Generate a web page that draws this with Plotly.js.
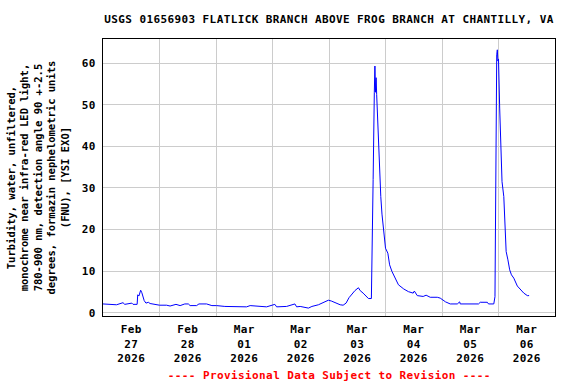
<!DOCTYPE html>
<html>
<head>
<meta charset="utf-8">
<script src="https://cdn.plot.ly/plotly-3.0.1.min.js"></script>
<style>
  html, body { margin: 0; padding: 0; background: #fff; }
  #chart { width: 576px; height: 384px; }
  .xtick text, .ytick text, .gtitle { letter-spacing: 0.4px; }
</style>
</head>
<body>
<div id="chart"></div>
<script>
// Turbidity (FNU) readings
var times = [
  "2026-02-27 00:00","2026-02-27 03:00","2026-02-27 05:45","2026-02-27 08:30","2026-02-27 09:15",
  "2026-02-27 12:15","2026-02-27 12:45","2026-02-27 14:30","2026-02-27 14:45","2026-02-27 15:15",
  "2026-02-27 16:00","2026-02-27 16:30","2026-02-27 17:00","2026-02-27 17:30","2026-02-27 18:15",
  "2026-02-27 19:15","2026-02-27 20:00","2026-02-27 22:00","2026-02-28 00:00","2026-02-28 03:00",
  "2026-02-28 04:30","2026-02-28 07:00","2026-02-28 08:45","2026-02-28 10:45","2026-02-28 12:15",
  "2026-02-28 13:00","2026-02-28 15:45","2026-02-28 16:45","2026-02-28 20:00","2026-02-28 22:15",
  "2026-03-01 00:15","2026-03-01 03:45","2026-03-01 07:30","2026-03-01 13:00","2026-03-01 14:30",
  "2026-03-01 16:00","2026-03-01 18:45","2026-03-01 21:30","2026-03-02 01:00","2026-03-02 01:45",
  "2026-03-02 06:00","2026-03-02 08:15","2026-03-02 09:30","2026-03-02 10:15","2026-03-02 11:45",
  "2026-03-02 15:15","2026-03-02 16:45","2026-03-02 19:30","2026-03-02 21:00","2026-03-02 22:30",
  "2026-03-02 23:45","2026-03-03 01:00","2026-03-03 02:30","2026-03-03 04:45","2026-03-03 06:00",
  "2026-03-03 07:15","2026-03-03 08:30","2026-03-03 09:45","2026-03-03 11:00","2026-03-03 12:30",
  "2026-03-03 13:15","2026-03-03 14:30","2026-03-03 15:45","2026-03-03 16:45","2026-03-03 18:00",
  "2026-03-03 18:15","2026-03-03 18:45","2026-03-03 19:15","2026-03-03 19:30","2026-03-03 19:45",
  "2026-03-03 20:00","2026-03-03 20:15","2026-03-03 20:45","2026-03-03 21:15","2026-03-03 21:45",
  "2026-03-03 22:00","2026-03-03 22:30","2026-03-03 23:00","2026-03-03 23:30","2026-03-04 00:00",
  "2026-03-04 01:00","2026-03-04 01:45","2026-03-04 02:45","2026-03-04 04:00","2026-03-04 05:30",
  "2026-03-04 07:45","2026-03-04 09:45","2026-03-04 11:45","2026-03-04 12:15","2026-03-04 13:30",
  "2026-03-04 16:00","2026-03-04 17:15","2026-03-04 19:00","2026-03-04 22:00","2026-03-04 23:15",
  "2026-03-05 01:30","2026-03-05 03:30","2026-03-05 06:30","2026-03-05 07:30","2026-03-05 07:45",
  "2026-03-05 12:00","2026-03-05 15:30","2026-03-05 16:15","2026-03-05 19:15","2026-03-05 19:45",
  "2026-03-05 22:00","2026-03-05 22:30","2026-03-05 22:45","2026-03-05 23:00","2026-03-05 23:15",
  "2026-03-05 23:30","2026-03-05 23:45","2026-03-06 00:00","2026-03-06 00:30","2026-03-06 01:00",
  "2026-03-06 01:30","2026-03-06 02:15","2026-03-06 02:45","2026-03-06 03:15","2026-03-06 04:00",
  "2026-03-06 04:45","2026-03-06 05:30","2026-03-06 06:30","2026-03-06 08:00","2026-03-06 09:15",
  "2026-03-06 10:45","2026-03-06 12:15","2026-03-06 13:00"
];
var turbidity = [
  2.1, 2.0, 1.9, 2.4, 2.0,
  2.3, 2.0, 2.0, 4.3, 4.0,
  5.4, 4.8, 3.85, 2.9, 2.3,
  2.5, 2.2, 2.0, 1.8, 1.8,
  1.6, 2.0, 1.7, 2.1, 2.1,
  1.7, 1.7, 2.1, 2.1, 1.7,
  1.7, 1.5, 1.4, 1.4, 1.7,
  1.6, 1.5, 1.4, 2.0, 1.4,
  1.5, 2.0, 2.1, 1.4, 1.5,
  1.1, 1.5, 1.9, 2.3, 2.7,
  3.0, 2.8, 2.4, 1.9, 1.8,
  2.3, 3.6, 4.6, 5.3, 6.0,
  5.3, 4.7, 3.9, 3.4, 3.4,
  11.1, 32.0, 53.0, 59.3, 53.0,
  56.5, 52.5, 44.4, 37.7, 32.3,
  27.9, 23.7, 20.7, 17.1, 15.5,
  14.3, 11.5, 9.9, 8.3, 6.7,
  5.7, 5.05, 4.7, 5.2, 4.1,
  3.9, 4.2, 3.7, 3.7, 3.5,
  2.6, 2.1, 2.1, 2.6, 2.1,
  2.1, 2.1, 2.5, 2.5, 2.1,
  2.1, 3.85, 30.0, 59.6, 62.0,
  63.2, 60.5, 61.0, 49.2, 42.0,
  31.5, 27.9, 20.3, 14.7, 12.7,
  10.3, 9.1, 8.3, 6.4, 5.5,
  4.7, 4.1, 4.1
];
var titleText = "USGS 01656903 FLATLICK BRANCH ABOVE FROG BRANCH AT CHANTILLY, VA";
var yLabelLines = [
  "Turbidity, water, unfiltered,",
  "monochrome near infra-red LED light,",
  "780-900 nm, detection angle 90 +-2.5",
  "degrees, formazin nephelometric units",
  "(FNU), [YSI EXO]"
];
var noteText = "---- Provisional Data Subject to Revision ----";
var xRange = ["2026-02-27 00:00", "2026-03-07 00:00"];
var yRange = [-0.8, 65.8];

var FONT = "DejaVu Sans Mono, Liberation Mono, monospace";
var FS = 11;

var trace = {
  x: times, y: turbidity, type: "scatter", mode: "lines",
  line: { color: "#0000ff", width: 1 },
  hoverinfo: "skip"
};

var layout = {
  width: 576, height: 384,
  margin: { l: 103, r: 21, t: 39, b: 68, pad: 0 },
  paper_bgcolor: "#ffffff", plot_bgcolor: "#ffffff",
  showlegend: false,
  font: { family: FONT, size: FS, color: "#000000", weight: "bold" },
  title: {
    text: titleText,
    font: { family: FONT, size: FS, color: "#000000", weight: "bold" },
    xref: "paper", x: 0.5, xanchor: "center",
    yref: "container", y: 1 - 19 / 384, yanchor: "middle"
  },
  xaxis: {
    type: "date", range: xRange,
    tick0: "2026-02-27", dtick: 86400000,
    ticklabelmode: "period", tickformat: "%b<br>%d<br>%Y",
    showgrid: true, gridcolor: "#cccccc", gridwidth: 1,
    showline: true, mirror: true, linecolor: "#000000", linewidth: 1,
    ticks: "", zeroline: false, ticklabelstandoff: 3,
    tickfont: { family: FONT, size: FS, color: "#000000", weight: "bold" }
  },
  yaxis: {
    range: yRange, tick0: 0, dtick: 10,
    showgrid: true, gridcolor: "#cccccc", gridwidth: 1,
    showline: true, mirror: true, linecolor: "#000000", linewidth: 1,
    ticks: "", zeroline: false, ticklabelstandoff: 4,
    tickfont: { family: FONT, size: FS, color: "#000000", weight: "bold" }
  },
  annotations: [
    {
      text: yLabelLines.join("<br>"), textangle: -90,
      xref: "paper", yref: "paper", x: 0, y: 0.5,
      xanchor: "center", yanchor: "middle", xshift: -65,
      showarrow: false,
      font: { family: FONT, size: 10.5, color: "#000000", weight: "bold" }
    },
    {
      text: noteText,
      xref: "paper", yref: "paper", x: 0.5, y: -(375 - 316) / 277,
      xanchor: "center", yanchor: "middle",
      showarrow: false,
      font: { family: FONT, size: FS, color: "#ff0000", weight: "bold" }
    }
  ]
};

Plotly.newPlot("chart", [trace], layout, { staticPlot: true, displayModeBar: false }).then(function () {
  document.querySelectorAll(".annotation-text").forEach(function (el) {
    if (el.textContent.indexOf("Provisional") >= 0) el.style.letterSpacing = "0.4px";
  });
});
</script>
</body>
</html>
